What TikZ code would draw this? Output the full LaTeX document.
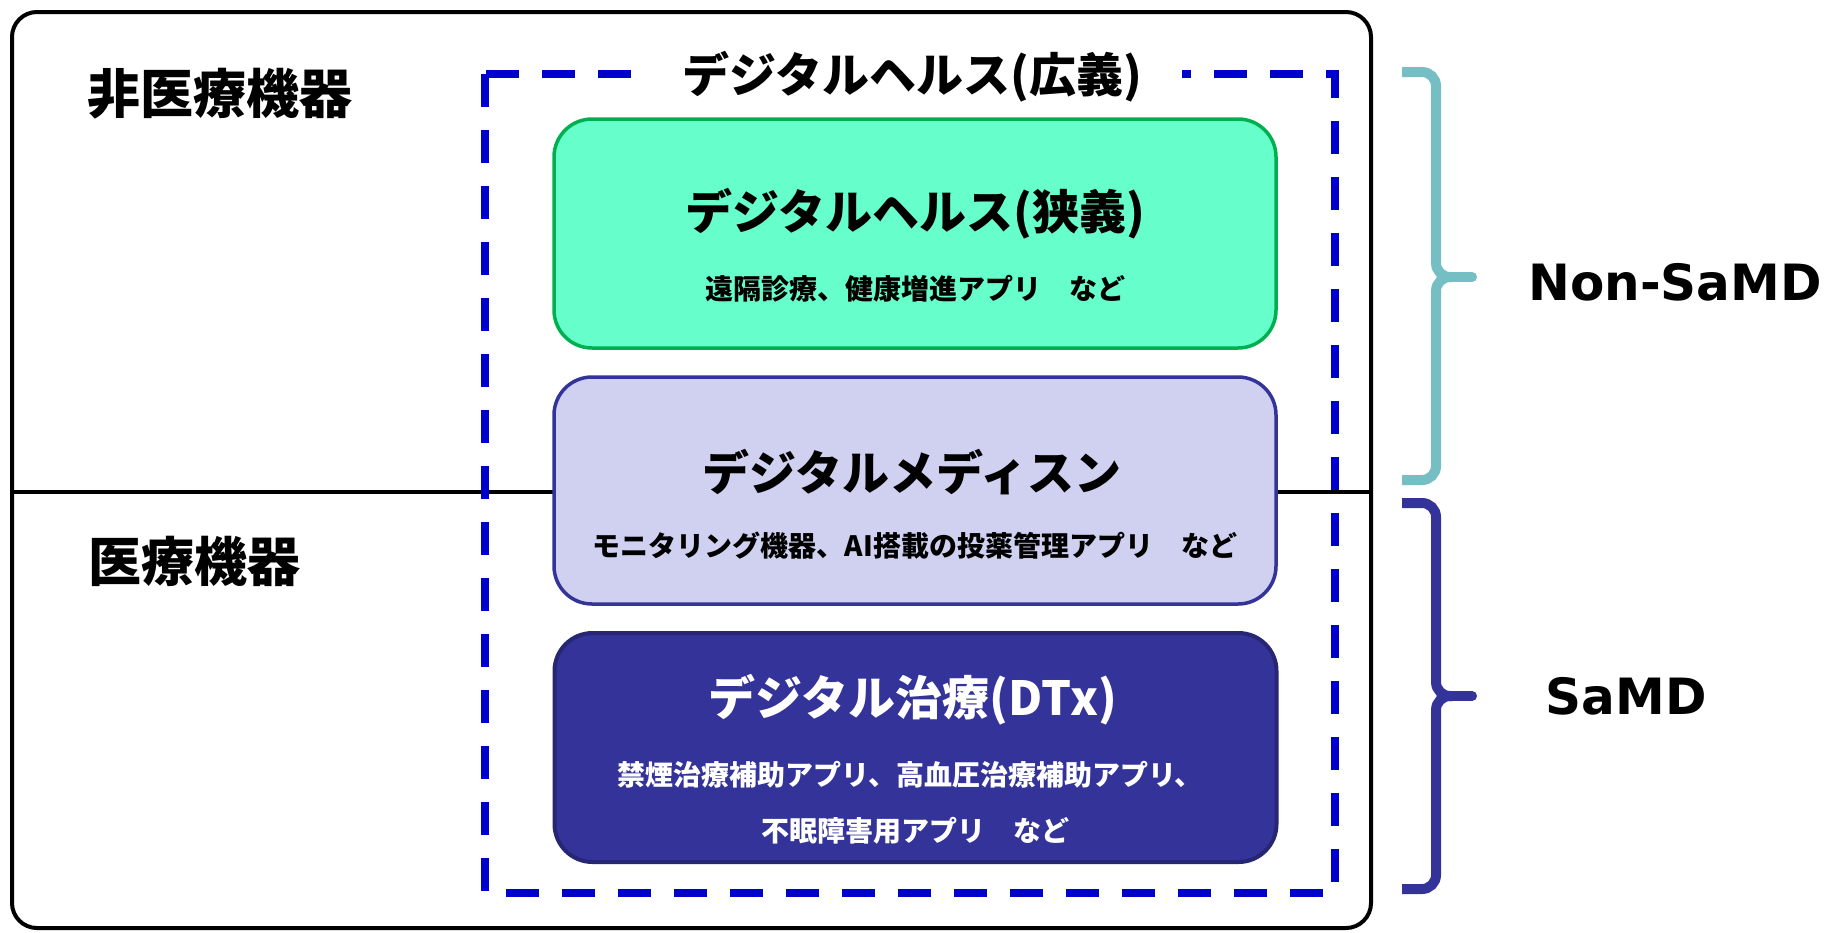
\documentclass[tikz,border=0pt]{standalone}
\usepackage{fontspec}
\newfontfamily\jp{Noto Sans CJK JP}
\newfontfamily\dv{DejaVu Sans}
\definecolor{dashblue}{RGB}{0,0,204}
\definecolor{grfill}{RGB}{102,255,204}
\definecolor{grline}{RGB}{0,176,80}
\definecolor{lpfill}{RGB}{208,208,240}
\definecolor{navy}{RGB}{51,51,153}
\definecolor{navyline}{RGB}{38,38,115}
\definecolor{tealb}{RGB}{117,191,196}
\begin{document}
\begin{tikzpicture}[x=0.5pt,y=-0.5pt,
  ttl/.style={font=\jp\bfseries\fontsize{23.5pt}{28pt}\selectfont, inner sep=0pt},
  sub/.style={font=\jp\bfseries\fontsize{14pt}{17pt}\selectfont, inner sep=0pt},
  side/.style={font=\jp\bfseries\fontsize{26.5pt}{31pt}\selectfont, inner sep=0pt, anchor=west},
  samd/.style={font=\dv\bfseries\fontsize{25pt}{30pt}\selectfont, inner sep=0pt},
  box/.style={rounded corners=19pt, line width=1.75pt, minimum width=361pt, inner sep=0pt},
  brace/.style={line width=5pt, rounded corners=7pt},
  dashbox/.style={draw=dashblue, line width=4pt, dash pattern=on 16.5pt off 11.5pt}]
\fill[white] (0,0) rectangle (1834,932);
\useasboundingbox (0,0) rectangle (1834,932);
% outer frame
\draw[line width=2pt, rounded corners=12.5pt] (12,12) rectangle (1371,928);
% divider
\coordinate (dl) at (12,492);
\coordinate (dr) at (1369,492);
\draw[line width=2pt] (dl) -- (dr);
% dashed broad box
\draw[dashbox] (485,74) rectangle (1335,893);
\node[ttl, fill=white, inner xsep=20pt, inner ysep=2pt] (broad) at (912,77) {デジタルヘルス(広義)};
% side labels
\node[side] (nonmed) at (87,94) {非医療機器};
\node[side] (med) at (88,561) {医療機器};
% boxes
\node[box, draw=grline, fill=grfill, minimum height=114.5pt] (g) at (915,233.5) {};
\node[ttl] (gt) at (915,214) {デジタルヘルス(狭義)};
\node[sub] (gs) at (915,289) {遠隔診療、健康増進アプリ　など};
\node[box, draw=navy, fill=lpfill, minimum height=113.5pt] (p) at (915,490.5) {};
\node[ttl] (pt) at (912,472) {デジタルメディスン};
\node[sub] (ps) at (915,546) {モニタリング機器、AI搭載の投薬管理アプリ　など};
\node[box, draw=navyline, fill=navy, line width=2pt, minimum height=114.5pt] (d) at (915.5,747.5) {};
\node[ttl, text=white] (dt) at (913,700) {デジタル治療(DTx)};
\node[sub, text=white] (ds1) at (910,775) {禁煙治療補助アプリ、高血圧治療補助アプリ、};
\node[sub, text=white] (ds2) at (915,831) {不眠障害用アプリ　など};
% braces
\draw[brace, draw=tealb] (1402,72) -- (1436,72) -- (1436,277) -- (1452,277);
\draw[brace, draw=tealb] (1452,277) -- (1436,277) -- (1436,480) -- (1402,480);
\draw[draw=tealb, line width=5pt, line cap=round] (1448,277) -- (1472,277);
\draw[brace, draw=navy] (1402,503) -- (1436,503) -- (1436,696) -- (1452,696);
\draw[brace, draw=navy] (1452,696) -- (1436,696) -- (1436,889) -- (1402,889);
\draw[draw=navy, line width=5pt, line cap=round] (1448,696) -- (1472,696);
\node[samd] (ns) at (1675,282) {Non-SaMD};
\node[samd] (s) at (1626,696) {SaMD};
\end{tikzpicture}
\end{document}
